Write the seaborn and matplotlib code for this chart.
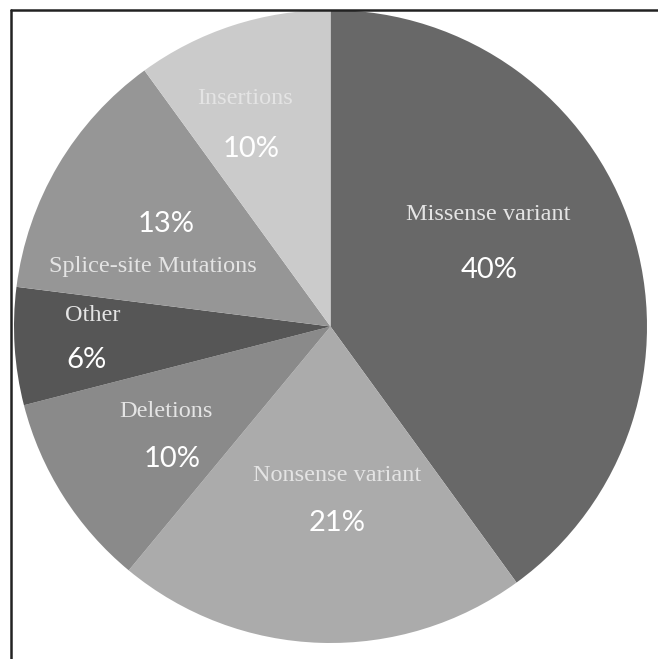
import matplotlib
matplotlib.use("Agg")
import matplotlib.pyplot as plt
from matplotlib.lines import Line2D
import seaborn as sns

# Mutation classes and their share of all reported variants (%)
categories = ["Missense variant", "Nonsense variant", "Deletions",
              "Other", "Splice-site Mutations", "Insertions"]
shares = [40, 21, 10, 6, 13, 10]
pct_labels = ["40%", "21%", "10%", "6%", "13%", "10%"]

# Grey shade for each class
shades = ["#686868", "#ababab", "#8a8a8a", "#565656", "#969696", "#cbcbcb"]

# Label placement inside the pie (data units, pie radius = 1)
name_xy = [(0.50, 0.355), (0.02, -0.47), (-0.52, -0.27),
           (-0.75, 0.035), (-0.56, 0.19), (-0.27, 0.72)]
pct_xy = [(0.50, 0.18), (0.02, -0.62), (-0.50, -0.42),
          (-0.77, -0.105), (-0.52, 0.325), (-0.25, 0.56)]

sns.set_theme(style="white")

W, H = 658, 659
fig = plt.figure(figsize=(W / 100, H / 100), dpi=100)
fig.patch.set_facecolor("white")

# Frame: only the top and left edges fall inside the canvas
fig.add_artist(Line2D([11 / W, 11 / W], [0, 1 - 10 / H], color="#222222",
                      lw=1.8, transform=fig.transFigure))
fig.add_artist(Line2D([11 / W, 1], [1 - 10 / H, 1 - 10 / H], color="#222222",
                      lw=1.8, transform=fig.transFigure))

ax = fig.add_axes([14 / W, 16 / H, 633 / W, 633 / H])
ax.pie(shares, colors=shades, startangle=90, counterclock=False,
       radius=1.0, wedgeprops=dict(linewidth=0))
ax.set_xlim(-1, 1)
ax.set_ylim(-1, 1)
ax.set_aspect("equal")
ax.axis("off")

for name, pct, (nx, ny), (px, py) in zip(categories, pct_labels, name_xy, pct_xy):
    ax.text(nx, ny, name, ha="center", va="center", color="#e4e4e4",
            fontsize=17.5, family=["Liberation Serif", "DejaVu Serif"])
    ax.text(px, py, pct, ha="center", va="center", color="white",
            fontsize=21, family=["Lato", "DejaVu Sans"])

fig.savefig("out.png", dpi=100, facecolor="white")
